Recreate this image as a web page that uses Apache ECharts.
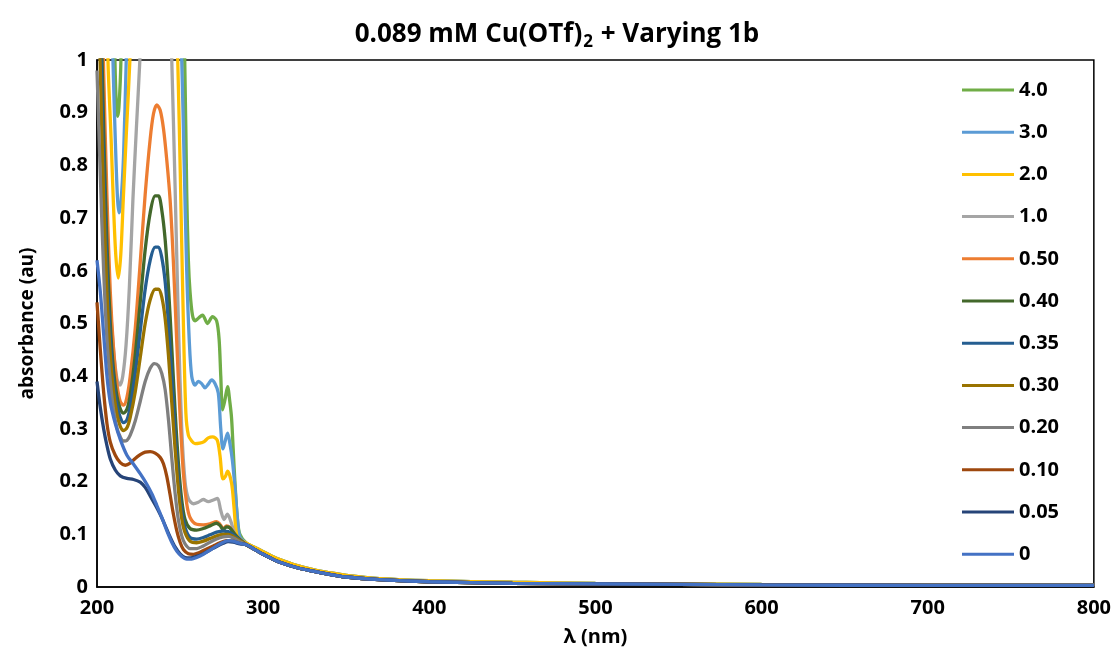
<!DOCTYPE html>
<html>
<head>
<meta charset="utf-8">
<script src="https://cdn.jsdelivr.net/npm/echarts@6/dist/echarts.min.js"></script>
<style>
  html, body { margin: 0; padding: 0; background: #fff; }
  #chart { width: 1114px; height: 658px; }
</style>
</head>
<body>
<div id="chart"></div>
<script>
// UV-vis spectra: absorbance vs wavelength, one curve per equivalent of 1b.
// Each curve is a list of [wavelength (nm), absorbance] readings; the region
// beyond 290 nm is a shared slow decay that all curves collapse onto.

const seriesNames = ['4.0', '3.0', '2.0', '1.0', '0.50', '0.40', '0.35', '0.30', '0.20', '0.10', '0.05', '0'];
const seriesColors = ['#70AD47', '#5B9BD5', '#FFC000', '#A5A5A5', '#ED7D31', '#43682B',
                      '#255E91', '#997300', '#7F7F7F', '#9E480E', '#264478', '#4472C4'];

const xTicks = [200, 300, 400, 500, 600, 700, 800];
const yTicks = [0, 0.1, 0.2, 0.3, 0.4, 0.5, 0.6, 0.7, 0.8, 0.9, 1];

const tailNm      = [290, 295, 300, 305, 310, 320, 330, 340, 350, 370, 400, 450, 500, 600, 700, 800];
const tailAbs     = [0.080, 0.071, 0.062, 0.054, 0.047, 0.037, 0.030, 0.024, 0.019, 0.014, 0.010, 0.007, 0.006, 0.004, 0.003, 0.003];
const tailAbsHigh = [0.083, 0.075, 0.067, 0.059, 0.052, 0.041, 0.033, 0.027, 0.022, 0.016, 0.012, 0.009, 0.007, 0.005, 0.004, 0.003];

const eq4_0 = [[200,3.5],[206,2.2],[209.5,1.25],[210.8,1.0],[211.7,0.91],[212.4,0.893],[213.2,0.91],[214.4,1.0],[216,1.4],[236,2.5],[248,1.6],[252.8,1.0],[254,0.75],[255,0.62],[256,0.56],[257.5,0.515],[259,0.505],[261,0.51],[263.5,0.516],[266.5,0.5],[269.5,0.513],[272,0.505],[273.5,0.47],[274.5,0.4],[275.6,0.336],[277,0.355],[278.6,0.38],[280,0.35],[281,0.32],[282,0.26],[283,0.2],[284.5,0.13],[286,0.1]];
const eq3_0 = [[200,3.0],[204,2.1],[207,1.4],[209.6,1.0],[211,0.85],[212.3,0.74],[213.2,0.71],[214.3,0.725],[216,0.82],[217.6,1.0],[222,1.5],[236,2.0],[246,1.5],[251,1.0],[252.5,0.8],[254,0.6],[255.5,0.47],[257,0.4],[259,0.383],[261,0.39],[263,0.386],[265,0.378],[267,0.385],[269,0.393],[271,0.386],[273,0.368],[274.5,0.3],[275.8,0.262],[277,0.275],[278.6,0.292],[280,0.272],[281.5,0.24],[283,0.19],[284.5,0.13],[286,0.095]];
const eq2_0 = [[200,2.6],[203,1.8],[205,1.3],[206.6,1.0],[208.5,0.85],[209.8,0.734],[211.3,0.63],[212.8,0.586],[214.3,0.63],[215.8,0.734],[217.8,0.87],[219.8,1.0],[223,1.3],[236,1.8],[245,1.4],[248.6,1.0],[250.3,0.76],[252,0.5],[253.5,0.33],[255,0.288],[257,0.277],[259,0.272],[261.8,0.273],[264.5,0.276],[267,0.283],[269.6,0.285],[272.3,0.279],[274,0.25],[275.8,0.205],[277.3,0.21],[278.6,0.22],[281,0.197],[282.5,0.15],[284,0.1],[286,0.09]];
const eq1_0 = [[200,2.4],[202,1.5],[203.6,1.0],[205.4,0.73],[207.5,0.56],[210,0.45],[212,0.395],[213.8,0.383],[215.5,0.4],[217.5,0.46],[219.5,0.57],[221.6,0.734],[223.7,0.87],[225.8,1.0],[230,1.3],[236,1.5],[241,1.35],[243.5,1.15],[245,1.0],[247,0.76],[249,0.5],[251,0.3],[253,0.2],[255,0.168],[258,0.158],[261,0.161],[264,0.166],[267,0.162],[270,0.165],[272.5,0.168],[274.5,0.145],[276.5,0.128],[278.5,0.138],[280.5,0.125],[282.5,0.105],[285,0.09]];
const eq0_50 = [[200,1.6],[202,1.28],[204,0.98],[206,0.74],[208,0.56],[210,0.45],[212,0.385],[214,0.352],[216,0.345],[218,0.36],[220,0.4],[223,0.49],[226,0.615],[229,0.745],[232,0.85],[234,0.898],[236,0.915],[238,0.905],[240,0.87],[242,0.81],[244,0.735],[246,0.615],[248,0.465],[250,0.325],[252,0.215],[254,0.158],[256,0.132],[260,0.119],[264,0.118],[268,0.12],[272,0.124],[274,0.119],[276,0.111],[278,0.116],[280,0.113],[283,0.1],[286,0.09]];
const eq0_40 = [[200,1.45],[202,1.15],[204,0.87],[206,0.65],[208,0.5],[210,0.41],[212,0.362],[214,0.338],[216,0.33],[218,0.337],[220,0.365],[223,0.44],[226,0.54],[229,0.64],[232,0.71],[235,0.742],[237,0.742],[239,0.715],[241,0.66],[243,0.57],[245,0.455],[247,0.335],[249,0.235],[251,0.165],[253,0.128],[256,0.111],[260,0.108],[264,0.111],[268,0.116],[272,0.121],[274,0.117],[276,0.109],[278,0.114],[280,0.112],[283,0.1],[286,0.09]];
const eq0_35 = [[200,1.35],[202,1.06],[204,0.8],[206,0.6],[208,0.47],[210,0.39],[212,0.345],[214,0.322],[216,0.312],[218,0.317],[220,0.342],[223,0.405],[226,0.485],[229,0.565],[232,0.62],[235,0.645],[237,0.645],[239,0.625],[241,0.58],[243,0.5],[245,0.4],[247,0.295],[249,0.205],[251,0.145],[253,0.113],[256,0.094],[260,0.091],[264,0.094],[268,0.099],[272,0.104],[276,0.106],[279,0.105],[282,0.099],[286,0.089]];
const eq0_30 = [[200,1.25],[202,0.98],[204,0.74],[206,0.56],[208,0.44],[210,0.37],[212,0.328],[214,0.305],[216,0.297],[218,0.302],[220,0.322],[223,0.37],[226,0.435],[229,0.5],[232,0.545],[235,0.565],[237,0.565],[239,0.55],[241,0.51],[243,0.44],[245,0.35],[247,0.262],[249,0.185],[251,0.13],[253,0.103],[256,0.087],[260,0.084],[264,0.087],[268,0.092],[272,0.097],[276,0.1],[279,0.1],[282,0.096],[286,0.088]];
const eq0_20 = [[200,0.98],[202,0.78],[204,0.6],[206,0.47],[208,0.39],[210,0.335],[212,0.302],[214,0.285],[216,0.277],[218,0.278],[220,0.288],[223,0.315],[226,0.352],[229,0.39],[232,0.415],[234.5,0.424],[237,0.42],[239,0.405],[241,0.375],[243,0.318],[245,0.245],[247,0.178],[249,0.127],[251,0.097],[253,0.082],[256,0.073],[260,0.073],[264,0.078],[268,0.085],[272,0.091],[276,0.095],[279,0.096],[282,0.093],[286,0.086]];
const eq0_10 = [[200,0.54],[202,0.45],[204,0.37],[206,0.31],[208,0.275],[211,0.25],[214,0.236],[217,0.231],[220,0.235],[223,0.244],[226,0.251],[229,0.256],[232,0.257],[235,0.254],[238,0.246],[240,0.234],[242,0.21],[244,0.175],[246,0.138],[248,0.107],[250,0.085],[252,0.071],[255,0.063],[258,0.062],[262,0.066],[266,0.072],[270,0.078],[274,0.084],[278,0.088],[282,0.087],[286,0.083]];
const eq0_05 = [[200,0.39],[202,0.34],[204,0.3],[206,0.268],[208,0.243],[211,0.222],[214,0.211],[218,0.206],[222,0.204],[226,0.199],[229,0.189],[232,0.173],[235,0.156],[238,0.138],[241,0.117],[244,0.095],[247,0.076],[250,0.063],[253,0.056],[256,0.055],[260,0.058],[264,0.063],[268,0.07],[272,0.077],[276,0.083],[279,0.086],[282,0.085],[286,0.082]];
const eq0 = [[200,0.62],[202,0.56],[204,0.48],[206,0.4],[208,0.35],[211,0.31],[214,0.28],[218,0.25],[222,0.233],[226,0.215],[230,0.195],[233,0.177],[236,0.155],[239,0.132],[242,0.107],[245,0.085],[248,0.068],[251,0.058],[254,0.053],[257,0.053],[260,0.056],[264,0.062],[268,0.07],[272,0.078],[276,0.085],[279,0.088],[282,0.087],[286,0.083]];

const curves = [eq4_0, eq3_0, eq2_0, eq1_0, eq0_50, eq0_40, eq0_35, eq0_30, eq0_20, eq0_10, eq0_05, eq0];
const highTail = ['4.0', '3.0', '2.0'];

const FONT = '"Open Sans", Lato, sans-serif';

function withTail(points, name) {
  const tail = highTail.includes(name) ? tailAbsHigh : tailAbs;
  return points.concat(tailNm.map((nm, i) => [nm, tail[i]]));
}

const series = seriesNames.map((name, i) => ({
  name: name,
  type: 'line',
  data: withTail(curves[i], name),
  smooth: 0.3,
  showSymbol: false,
  symbol: 'none',
  clip: true,
  lineStyle: { color: seriesColors[i], width: 3.3 },
  itemStyle: { color: seriesColors[i] },
  emphasis: { disabled: true }
}));

const chart = echarts.init(document.getElementById('chart'), null, { renderer: 'canvas' });

chart.setOption({
  animation: false,
  backgroundColor: '#ffffff',
  title: {
    text: '{a|0.089 mM Cu(OTf)}{s|2}{a| + Varying 1b}',
    left: 'center',
    top: 14,
    textStyle: {
      rich: {
        a: { fontFamily: FONT, fontWeight: 'bold', fontSize: 26, color: '#000', lineHeight: 32 },
        s: { fontFamily: FONT, fontWeight: 'bold', fontSize: 17, color: '#000', lineHeight: 32, padding: [15, 1, 0, 1] }
      }
    }
  },
  grid: {
    left: 97, right: 17, top: 60, bottom: 71,
    show: true, borderColor: '#000', borderWidth: 1.5, backgroundColor: 'transparent'
  },
  legend: {
    orient: 'vertical',
    left: 962,
    top: 80,
    padding: 0,
    icon: 'rect',
    itemWidth: 52,
    itemHeight: 3,
    itemGap: 22.2,
    data: seriesNames,
    textStyle: { fontFamily: FONT, fontWeight: 'bold', fontSize: 20, color: '#000', lineHeight: 20 }
  },
  xAxis: {
    type: 'value',
    min: xTicks[0],
    max: xTicks[xTicks.length - 1],
    interval: 100,
    name: 'λ (nm)',
    nameLocation: 'middle',
    nameGap: 40,
    nameTextStyle: { fontFamily: FONT, fontWeight: 'bold', fontSize: 20, color: '#000' },
    axisLine: { lineStyle: { color: '#000', width: 1.5 } },
    axisTick: { show: false },
    splitLine: { show: false },
    axisLabel: { fontFamily: FONT, fontWeight: 'bold', fontSize: 20, color: '#000', margin: 11 }
  },
  yAxis: {
    type: 'value',
    min: yTicks[0],
    max: yTicks[yTicks.length - 1],
    interval: 0.1,
    name: 'absorbance (au)',
    nameLocation: 'middle',
    nameGap: 60,
    nameTextStyle: { fontFamily: FONT, fontWeight: 'bold', fontSize: 19, color: '#000' },
    axisLine: { show: true, lineStyle: { color: '#000', width: 1.5 } },
    axisTick: { show: false },
    splitLine: { show: false },
    axisLabel: {
      fontFamily: FONT, fontWeight: 'bold', fontSize: 20, color: '#000', margin: 9,
      formatter: v => (v === 0 || v === 1) ? String(v) : v.toFixed(1)
    }
  },
  series: series
});
</script>
</body>
</html>
